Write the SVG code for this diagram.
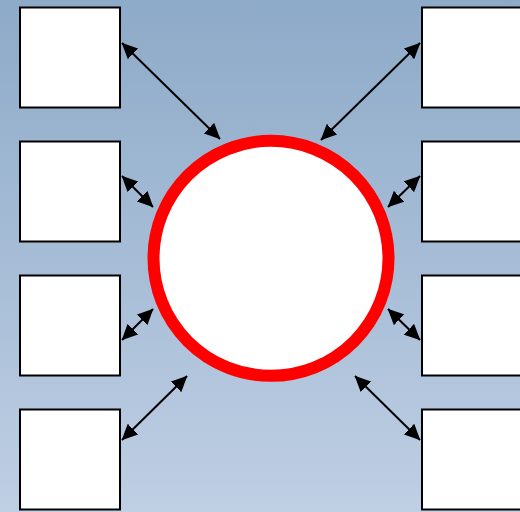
<svg xmlns="http://www.w3.org/2000/svg" width="520" height="512" viewBox="0 0 520 512">
<defs>
<linearGradient id="bg" x1="0" y1="0" x2="0" y2="1">
<stop offset="0" stop-color="#8dAAC8"/>
<stop offset="1" stop-color="#BFCFE4"/>
</linearGradient>
<marker id="ah" viewBox="0 0 16 15" markerWidth="16" markerHeight="15" refX="15.5" refY="7.5" orient="auto-start-reverse" markerUnits="userSpaceOnUse">
<path d="M0,0 L16,7.5 L0,15 Z" fill="#000"/>
</marker>
</defs>
<style>
.box{fill:#fff;stroke:#000;stroke-width:2}
.conn{stroke:#000;stroke-width:2;fill:none;marker-start:url(#ah);marker-end:url(#ah)}
</style>
<rect width="520" height="512" fill="url(#bg)"/>
<g id="connectors">
<line class="conn" x1="122" y1="43" x2="220" y2="139"/>
<line class="conn" x1="420" y1="43" x2="321" y2="140"/>
<line class="conn" x1="122" y1="176" x2="153" y2="207"/>
<line class="conn" x1="420" y1="176" x2="388" y2="207"/>
<line class="conn" x1="122" y1="340" x2="153" y2="309"/>
<line class="conn" x1="420" y1="340" x2="388" y2="309"/>
<line class="conn" x1="122" y1="440" x2="187" y2="376"/>
<line class="conn" x1="420" y1="440" x2="355" y2="376"/>
</g>
<g id="box-l1"><rect class="box" x="20" y="7.5" width="100" height="100"/></g>
<g id="box-l2"><rect class="box" x="20" y="141.5" width="100" height="100"/></g>
<g id="box-l3"><rect class="box" x="20" y="275.5" width="100" height="100"/></g>
<g id="box-l4"><rect class="box" x="20" y="409.5" width="100" height="100"/></g>
<g id="box-r1"><rect class="box" x="422" y="7.5" width="100" height="100"/></g>
<g id="box-r2"><rect class="box" x="422" y="141.5" width="100" height="100"/></g>
<g id="box-r3"><rect class="box" x="422" y="275.5" width="100" height="100"/></g>
<g id="box-r4"><rect class="box" x="422" y="409.5" width="100" height="100"/></g>
<g id="center"><circle cx="271" cy="258.3" r="117.5" fill="#fff" stroke="#ff0000" stroke-width="12"/></g>
</svg>
